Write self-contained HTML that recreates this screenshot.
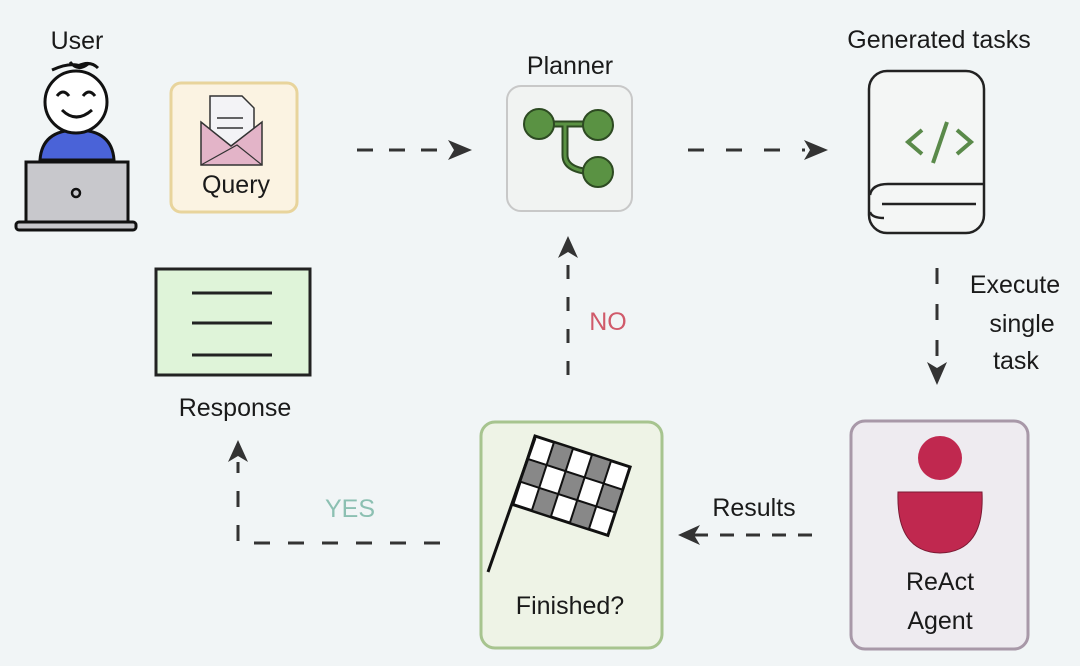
<!DOCTYPE html>
<html><head><meta charset="utf-8"><style>
html,body{margin:0;padding:0;background:#f1f5f6;}
svg{display:block;}
text{font-family:"Liberation Sans",sans-serif;font-size:25px;fill:#1a1a1a;text-anchor:middle;}
</style></head><body>
<svg width="1080" height="666" viewBox="0 0 1080 666" xmlns="http://www.w3.org/2000/svg">
<rect width="1080" height="666" fill="#f1f5f6"/>
<!-- User -->
<text x="77" y="49">User</text>
<path d="M52 70 Q70 62 80 66 M70 62 Q78 72 88 64 M78 66 Q90 60 98 68" stroke="#111" stroke-width="3" fill="none"/>
<path d="M40 160 Q42 130 77 130 Q112 130 114 160 Z" fill="#4a63d8" stroke="#111" stroke-width="3"/>
<circle cx="76" cy="102" r="31" fill="#fff" stroke="#111" stroke-width="3"/>
<path d="M57 96 Q63 88 69 96 M83 96 Q89 88 95 96 M62 110 Q76 124 92 110" stroke="#111" stroke-width="3" fill="none"/>
<rect x="26" y="162" width="102" height="60" fill="#c8c8cc" stroke="#111" stroke-width="3"/>
<circle cx="76" cy="193" r="4" fill="none" stroke="#111" stroke-width="2.5"/>
<rect x="16" y="222" width="120" height="8" rx="3" fill="#c8c8cc" stroke="#111" stroke-width="3"/>
<!-- Query -->
<rect x="171" y="83" width="126" height="129" rx="10" fill="#fbf3e2" stroke="#e8d49c" stroke-width="3"/>
<path d="M210 96 h32 l12 12 v40 h-44 z" fill="#f3f3f6" stroke="#333" stroke-width="1.5"/>
<path d="M217 118 h26 M217 128 h26" stroke="#333" stroke-width="1.5"/>
<path d="M201 122 l30 24 l31 -24 v43 h-61 z" fill="#e3b4c8" stroke="#333" stroke-width="1.5"/>
<path d="M201 165 l36 -20 l25 20" fill="none" stroke="#333" stroke-width="1.2"/>
<text x="236" y="193">Query</text>
<!-- arrows top -->
<path d="M357 150 H450" stroke="#333" stroke-width="3" stroke-dasharray="16 16"/>
<path d="M448 140 L472 150 L448 160 L454 150 Z" fill="#333"/>
<path d="M688 150 H805" stroke="#333" stroke-width="3" stroke-dasharray="16 22"/>
<path d="M804 140 L828 150 L804 160 L810 150 Z" fill="#333"/>
<!-- Planner -->
<text x="570" y="74">Planner</text>
<rect x="507" y="86" width="125" height="125" rx="14" fill="#f1f3f2" stroke="#c8c8c8" stroke-width="2"/>
<path d="M540 124 H598 M565 124 V155 Q565 172 598 172" stroke="#2d4a22" stroke-width="7" fill="none"/>
<path d="M540 124 H598 M565 124 V155 Q565 172 598 172" stroke="#5a9243" stroke-width="3" fill="none"/>
<circle cx="539" cy="124" r="15" fill="#5a9243" stroke="#2d4a22" stroke-width="2"/>
<circle cx="598" cy="125" r="15" fill="#5a9243" stroke="#2d4a22" stroke-width="2"/>
<circle cx="598" cy="172" r="15" fill="#5a9243" stroke="#2d4a22" stroke-width="2"/>
<!-- Book -->
<text x="939" y="48">Generated tasks</text>
<rect x="869" y="71" width="115" height="162" rx="18" fill="#f4f6f5" stroke="#222" stroke-width="2.5"/>
<path d="M870 195 Q872 184 888 184 H984 M882 204 H976 M870 212 Q872 218 884 218" fill="none" stroke="#222" stroke-width="2.5"/>
<path d="M922 130 L908 142 L922 154 M957 130 L971 142 L957 154 M947 122 L933 163" fill="none" stroke="#5a8a4a" stroke-width="4"/>
<!-- Execute -->
<path d="M937 268 V365" stroke="#333" stroke-width="3" stroke-dasharray="16 20"/>
<path d="M927 362 L937 385 L947 362 L937 368 Z" fill="#333"/>
<text x="1015" y="293">Execute</text>
<text x="1022" y="332">single</text>
<text x="1016" y="369">task</text>
<!-- ReAct -->
<rect x="851" y="421" width="177" height="228" rx="14" fill="#eeebf0" stroke="#a898a8" stroke-width="3"/>
<circle cx="940" cy="458" r="22" fill="#c0284f"/>
<path d="M898 492 H982 Q985 552 940 553 Q896 552 898 492 Z" fill="#c0284f" stroke="#7a1a33" stroke-width="1"/>
<text x="940" y="590">ReAct</text>
<text x="940" y="629">Agent</text>
<!-- Results -->
<text x="754" y="516">Results</text>
<path d="M812 535 H690" stroke="#333" stroke-width="3" stroke-dasharray="14 12"/>
<path d="M700 525 L678 535 L700 545 L694 535 Z" fill="#333"/>
<!-- Finished -->
<rect x="481" y="422" width="181" height="226" rx="14" fill="#eef3e6" stroke="#a7c48f" stroke-width="3"/>
<g transform="translate(535 436) rotate(18)">
<rect x="0" y="0" width="100" height="72" fill="#fff" stroke="#111" stroke-width="3"/>
<g fill="#888" stroke="#111" stroke-width="2">
<rect x="20" y="0" width="20" height="24"/><rect x="60" y="0" width="20" height="24"/>
<rect x="0" y="24" width="20" height="24"/><rect x="40" y="24" width="20" height="24"/><rect x="80" y="24" width="20" height="24"/>
<rect x="20" y="48" width="20" height="24"/><rect x="60" y="48" width="20" height="24"/>
</g></g>
<path d="M535 438 L488 572" stroke="#111" stroke-width="3"/>
<text x="570" y="614">Finished?</text>
<!-- NO -->
<path d="M568 375 V262" stroke="#333" stroke-width="3" stroke-dasharray="14 18"/>
<path d="M558 258 L568 236 L578 258 L568 252 Z" fill="#333"/>
<text x="608" y="330" style="fill:#d05a6a">NO</text>
<!-- YES -->
<path d="M440 543 H238 V462" fill="none" stroke="#333" stroke-width="3" stroke-dasharray="16 18"/>
<path d="M228 462 L238 440 L248 462 L238 456 Z" fill="#333"/>
<text x="350" y="517" style="fill:#8cc0b2">YES</text>
<!-- Response -->
<rect x="156" y="269" width="154" height="106" fill="#dff4d9" stroke="#222" stroke-width="3"/>
<path d="M192 293 H272 M192 323 H272 M192 355 H272" stroke="#222" stroke-width="3"/>
<text x="235" y="416">Response</text>
</svg>
</body></html>
